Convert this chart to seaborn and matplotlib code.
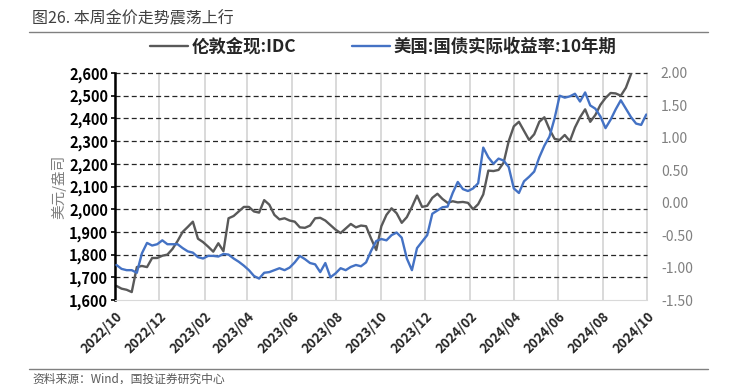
import numpy as np
import pandas as pd
import matplotlib
matplotlib.use("Agg")
import matplotlib.pyplot as plt
import matplotlib.dates as mdates
import seaborn as sns

# weekly readings, starting 2022-10-03
gold = [1662, 1650, 1645, 1635, 1745, 1750, 1745, 1785, 1785, 1795,
        1800, 1825, 1860, 1900, 1922, 1945, 1870, 1855, 1835, 1813,
        1850, 1815, 1960, 1970, 1990, 2010, 2010, 1990, 1985, 2040,
        2020, 1975, 1955, 1960, 1950, 1945, 1920, 1918, 1928, 1960,
        1962, 1950, 1930, 1910, 1895, 1915, 1935, 1920, 1928, 1925,
        1870, 1820, 1925, 1975, 2004, 1982, 1940, 1965, 2010, 2060,
        2010, 2015, 2050, 2068, 2045, 2028, 2035, 2030, 2032, 2028,
        2000, 2022, 2065, 2170, 2168, 2173, 2205, 2300, 2365, 2385,
        2345, 2305, 2330, 2385, 2405, 2352, 2310, 2305, 2327, 2300,
        2360, 2405, 2440, 2385, 2415, 2460, 2490, 2512, 2510, 2500,
        2535, 2595]

real_yield = [-0.96, -1.02, -1.04, -1.04, -1.08, -0.78, -0.62, -0.66, -0.64, -0.58,
              -0.64, -0.64, -0.64, -0.70, -0.75, -0.77, -0.84, -0.86, -0.82, -0.82,
              -0.83, -0.79, -0.80, -0.86, -0.91, -0.97, -1.04, -1.13, -1.17, -1.08,
              -1.07, -1.04, -1.01, -1.04, -1.00, -0.92, -0.82, -0.87, -0.93, -0.95,
              -1.07, -0.93, -1.15, -1.09, -1.01, -1.04, -0.99, -0.96, -0.98, -0.92,
              -0.74, -0.59, -0.56, -0.58, -0.50, -0.46, -0.54, -0.86, -1.04, -0.70,
              -0.60, -0.50, -0.17, -0.12, -0.07, -0.06, 0.15, 0.32, 0.21, 0.18,
              0.22, 0.30, 0.85, 0.70, 0.60, 0.68, 0.65, 0.55, 0.22, 0.15,
              0.33, 0.40, 0.48, 0.70, 0.88, 1.02, 1.30, 1.65, 1.62, 1.64,
              1.68, 1.56, 1.70, 1.50, 1.45, 1.33, 1.15, 1.28, 1.44, 1.58,
              1.45, 1.32, 1.22, 1.20, 1.36]

gold_label = "伦敦金现:IDC"
yield_label = "美国:国债实际收益率:10年期"
title = "图26. 本周金价走势震荡上行"
source = "资料来源：Wind，国投证券研究中心"

gold_df = pd.DataFrame({"date": pd.date_range("2022-10-03", periods=len(gold), freq="7D"),
                        "value": gold})
yield_df = pd.DataFrame({"date": pd.date_range("2022-10-03", periods=len(real_yield), freq="7D"),
                         "value": real_yield})

sns.set_style("white")
plt.rcParams["font.family"] = ["Noto Sans CJK SC", "DejaVu Sans"]
plt.rcParams["axes.unicode_minus"] = False

rect = [115 / 730, 1 - 300 / 384, 532 / 730, 227 / 384]
fig = plt.figure(figsize=(7.3, 3.84), dpi=100)
ax = fig.add_axes(rect)
ax2 = ax.twinx()
ax.patch.set_visible(False)

sns.lineplot(data=gold_df, x="date", y="value", ax=ax, color="#595959", lw=1.7, label=gold_label, legend=False)
sns.lineplot(data=yield_df, x="date", y="value", ax=ax2, color="#4472C4", lw=1.7, label=yield_label, legend=False)

x0, x1 = pd.Timestamp("2022-10-01"), pd.Timestamp("2024-10-01")
ax.set_ylim(1600, 2600)
ax.set_xlim(x0, x1)
ax2.set_ylim(-1.5, 2.0)

xt = mdates.date2num(pd.date_range("2022-10-01", "2024-10-01", freq="2MS"))
yt = np.arange(1600, 2601, 100)

# grid drawn behind both axes, placed through the left axis scales
left, bottom, width, height = rect
xspan = mdates.date2num(x1) - mdates.date2num(x0)
for d in xt:
    fx = left + (d - mdates.date2num(x0)) / xspan * width
    fig.add_artist(plt.Line2D([fx, fx], [bottom, bottom + height], color="#d0d0d0", lw=1.1, zorder=-2))
for v in yt[1:]:
    fy = bottom + (v - 1600) / 1000 * height
    fig.add_artist(plt.Line2D([left, left + width], [fy, fy], color="#262626", lw=0.9,
                              linestyle=(0, (4, 2.5)), zorder=-1))

# left axis
ax.set_yticks(yt)
ax.set_yticklabels([f"{v:,}" for v in yt], fontsize=10.5, fontweight="bold", color="black")
ax.set_ylabel("美元/盎司", color="#808080", fontsize=10.5, labelpad=2)

# x axis
ax.set_xticks(xt)
ax.xaxis.set_major_formatter(mdates.DateFormatter("%Y/%m"))
ax.set_xlabel("")
for lab in ax.get_xticklabels():
    lab.set_rotation(45)
    lab.set_ha("right")
    lab.set_rotation_mode("anchor")
    lab.set_fontsize(9.5)
    lab.set_fontweight("bold")
ax.tick_params(axis="x", length=5, color="#d9d9d9", pad=2)
ax.tick_params(axis="y", length=3, color="black", width=1.2, pad=2)

for s in ["top", "right"]:
    ax.spines[s].set_visible(False)
ax.spines["left"].set_color("black")
ax.spines["left"].set_linewidth(1.8)
ax.spines["bottom"].set_color("#d9d9d9")

# right axis
ax2.set_yticks(np.arange(-1.5, 2.01, 0.5))
ax2.set_yticklabels([f"{v:.2f}" for v in np.arange(-1.5, 2.01, 0.5)], fontsize=10, color="#808080")
ax2.set_ylabel("")
ax2.tick_params(axis="y", length=0, pad=10)
for s in ax2.spines.values():
    s.set_visible(False)

h1, l1 = ax.get_legend_handles_labels()
h2, l2 = ax2.get_legend_handles_labels()
fig.legend(h1 + h2, l1 + l2, loc="center", bbox_to_anchor=(0.525, 1 - 47 / 384), ncol=2,
           frameon=False, handlelength=2.2, columnspacing=3.2, handletextpad=0.2,
           prop={"family": ["Noto Sans CJK SC", "DejaVu Sans"], "weight": "bold", "size": 12.5})

fig.text(32 / 730, 1 - 19 / 384, title, fontsize=11.5, color="#404040", va="center", ha="left")
fig.add_artist(plt.Line2D([29 / 730, 708 / 730], [1 - 32 / 384] * 2, color="#808080", lw=1))
fig.add_artist(plt.Line2D([29 / 730, 708 / 730], [1 - 369 / 384] * 2, color="#808080", lw=1))
fig.text(32 / 730, 1 - 379 / 384, source, fontsize=8.5, color="#595959", style="italic",
         va="center", ha="left")

fig.savefig("out.png", dpi=100)
